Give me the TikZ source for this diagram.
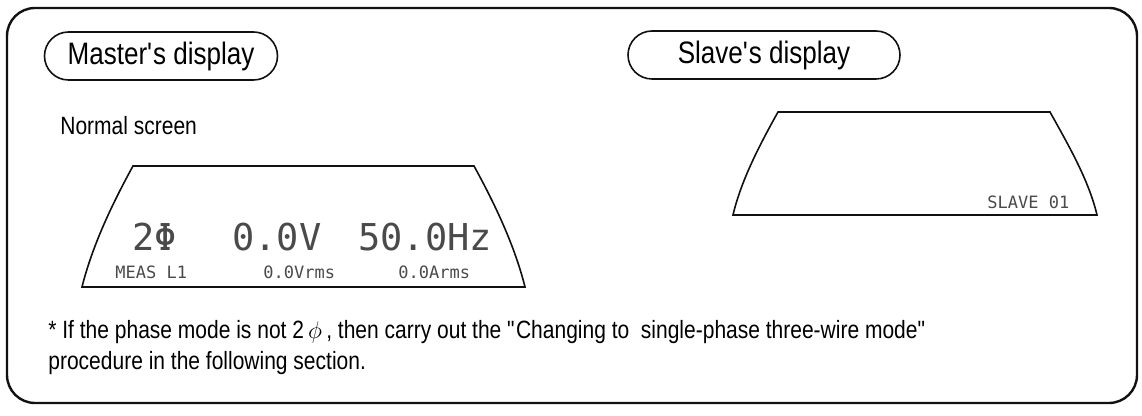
\documentclass[tikz,border=0pt]{standalone}
\usepackage{fontspec}
\setmainfont{Liberation Sans}[FakeStretch=0.84]
\newfontfamily\lcdfont{DejaVu Sans Mono}
\usepackage{tikz}
\usetikzlibrary{positioning}
\definecolor{inkblack}{HTML}{111111}
\definecolor{lcdgray}{HTML}{4A4A4A}
\tikzset{
    frame/.style={draw=inkblack, line width=1.2pt, rounded corners=14pt},
    tagpill/.style={
        draw=inkblack,
        line width=0.8pt,
        rounded corners=12pt,
        minimum height=24pt,
        inner sep=0pt,
        font=\fontsize{15.5}{18}\selectfont
    },
    lcdpanel/.style={draw=inkblack, line width=0.8pt},
    plaintext/.style={inner sep=0pt, anchor=west, font=\fontsize{12.5}{15}\selectfont},
    lcdbig/.style={inner sep=0pt, anchor=west, text=lcdgray, font=\lcdfont\fontsize{18.5}{20}\selectfont},
    lcdsmall/.style={inner sep=0pt, anchor=west, text=lcdgray, font=\lcdfont\fontsize{8.5}{10}\selectfont}
}
\begin{document}
\begin{tikzpicture}[x=0.5pt, y=-0.5pt]
    \useasboundingbox (0,0) rectangle (1142,416);
    \draw[frame] (7,8) rectangle (1137,403);

    \node[tagpill, minimum width=116.5pt] (masterhead) at (161,56) {Master\textquotesingle s display};
    \node[tagpill, minimum width=136pt] (slavehead) at (764,55) {Slave\textquotesingle s display};
    \node[plaintext] (normal) at (60,126) {Normal screen};

    % master panel
    \coordinate (mtl) at (133,166);
    \coordinate (mtr) at (474,166);
    \coordinate (mbr) at (525,287);
    \coordinate (mbl) at (82,287);
    \draw[lcdpanel] (mtl) -- (mtr) .. controls +(22,40) and +(-10,-40) .. (mbr)
        -- (mbl) .. controls +(10,-40) and +(-22,40) .. (mtl) -- cycle;
    \node[lcdbig] (phase) at (132,237) {2Φ};
    \node[lcdbig] (volt) at (232,237) {0.0V};
    \node[lcdbig] (freq) at (358,237) {50.0Hz};
    \node[lcdsmall] (meas) at (115,272) {MEAS L1};
    \node[lcdsmall] (vrms) at (263,272) {0.0Vrms};
    \node[lcdsmall] (arms) at (398,272) {0.0Arms};

    % slave panel
    \coordinate (stl) at (778,112);
    \coordinate (str) at (1050,112);
    \coordinate (sbr) at (1097,215);
    \coordinate (sbl) at (733,215);
    \draw[lcdpanel] (stl) -- (str) .. controls +(19,34) and +(-8,-34) .. (sbr)
        -- (sbl) .. controls +(8,-34) and +(-19,34) .. (stl) -- cycle;
    \node[lcdsmall] (slaveid) at (987,202) {SLAVE 01};

    \node[plaintext] (note) at (48,332) {* If the phase mode is not 2\,$\phi$\,, then carry out the \textquotedbl Changing to\ \ single-phase three-wire mode\textquotedbl};
    \node[plaintext] (notecont) at (48,363) {procedure in the following section.};
\end{tikzpicture}
\end{document}
